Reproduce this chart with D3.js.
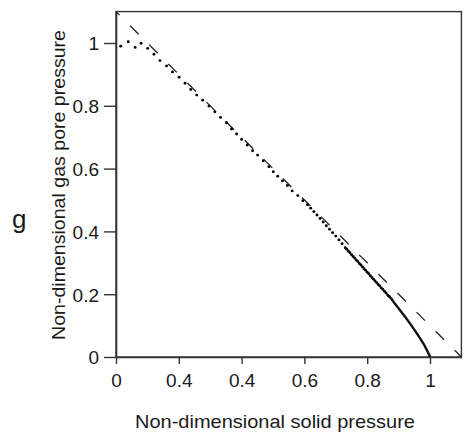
<!DOCTYPE html>
<html>
<head>
<meta charset="utf-8">
<script src="https://cdn.jsdelivr.net/npm/d3@7"></script>
<style>
  html, body { margin: 0; padding: 0; background: #fff; }
  svg text { font-family: "Liberation Sans", Arial, sans-serif; fill: #1a1a1a; }
</style>
</head>
<body>
<svg id="chart" width="467" height="436"></svg>
<script>
// Solid pressure (x) and gas pore pressure (y) of the computed solution, plotted as dots
const solidP = [
  0.015, 0.039, 0.061, 0.080, 0.101, 0.121, 0.140, 0.161, 0.180, 0.201,
  0.220, 0.238, 0.257, 0.276, 0.296, 0.315, 0.333, 0.352, 0.368, 0.384,
  0.400, 0.418, 0.435, 0.451, 0.469, 0.487, 0.501, 0.515, 0.530, 0.546,
  0.561, 0.579, 0.595, 0.610, 0.620, 0.630, 0.640, 0.650, 0.660, 0.670,
  0.680, 0.690, 0.700, 0.710, 0.720, 0.730, 0.735, 0.740, 0.745, 0.750,
  0.755, 0.760, 0.765, 0.770, 0.775, 0.780, 0.785, 0.790, 0.795, 0.800,
  0.805, 0.810, 0.815, 0.820, 0.825, 0.830, 0.835, 0.840, 0.845, 0.850,
  0.855, 0.860, 0.865, 0.870
];
const gasP = [
  0.990, 1.004, 0.986, 0.999, 0.983, 0.964, 0.944, 0.927, 0.908, 0.891,
  0.872, 0.852, 0.834, 0.818, 0.799, 0.781, 0.763, 0.746, 0.726, 0.710,
  0.693, 0.675, 0.657, 0.643, 0.625, 0.606, 0.590, 0.576, 0.561, 0.546,
  0.529, 0.514, 0.498, 0.485, 0.474, 0.463, 0.452, 0.441, 0.430, 0.418,
  0.407, 0.396, 0.385, 0.373, 0.361, 0.348, 0.343, 0.337, 0.332, 0.326,
  0.320, 0.315, 0.309, 0.304, 0.298, 0.293, 0.287, 0.281, 0.276, 0.270,
  0.265, 0.259, 0.253, 0.248, 0.242, 0.237, 0.231, 0.226, 0.220, 0.215,
  0.209, 0.204, 0.198, 0.193
];

// Dense tail of the solution near full solid pressure, where the dots merge into a line
const tailSolidP = [0.865, 0.873, 0.889, 0.904, 0.920, 0.936, 0.952, 0.968, 0.980, 0.989, 0.995, 0.999, 1.000];
const tailGasP   = [0.198, 0.190, 0.169, 0.150, 0.129, 0.107, 0.084, 0.060, 0.041, 0.024, 0.012, 0.004, 0.000];

// Reference line g = 1.1 - p
const refP = [0, 1.1];
const refG = [1.1, 0];

const xTickValues = [0, 0.2, 0.4, 0.6, 0.8, 1];
const xTickLabels = ["0", "0.4", "0.4", "0.6", "0.8", "1"];
const yTickValues = [0, 0.2, 0.4, 0.6, 0.8, 1];
const yTickLabels = ["0", "0.2", "0.4", "0.6", "0.8", "1"];

const svg = d3.select("#chart");
const left = 116, bottom = 357, unit = 314;
const fontSize = 19;

const x = d3.scaleLinear().domain([0, 1.1]).range([left, left + 1.1 * unit]);
const y = d3.scaleLinear().domain([0, 1.1]).range([bottom, bottom - 1.1 * unit]);

// Frame
svg.append("rect")
  .attr("x", x(0)).attr("y", y(1.1))
  .attr("width", x(1.1) - x(0)).attr("height", y(0) - y(1.1))
  .attr("fill", "none").attr("stroke", "#333").attr("stroke-width", 1.4);

// Axes
const xAxis = d3.axisBottom(x)
  .tickValues(xTickValues)
  .tickFormat((d, i) => xTickLabels[i])
  .tickSize(7).tickSizeOuter(0).tickPadding(10);
const gx = svg.append("g").attr("transform", `translate(0,${bottom})`).call(xAxis);

const yAxis = d3.axisLeft(y)
  .tickValues(yTickValues)
  .tickFormat((d, i) => yTickLabels[i])
  .tickSize(12).tickSizeOuter(0).tickPadding(5);
const gy = svg.append("g").attr("transform", `translate(${left},0)`).call(yAxis);

[gx, gy].forEach(g => {
  g.select(".domain").attr("stroke", "#333").attr("stroke-width", 1.6);
  g.selectAll(".tick line").attr("stroke", "#333").attr("stroke-width", 1.4);
  g.selectAll(".tick text").attr("font-size", fontSize).attr("fill", "#1a1a1a")
    .attr("font-family", "Liberation Sans, Arial, sans-serif");
});
gy.selectAll(".tick text").attr("dy", "0.36em");

// Dashed reference line
const line = d3.line().x(d => x(d[0])).y(d => y(d[1]));
svg.append("path")
  .datum(refP.map((p, i) => [p, refG[i]]))
  .attr("d", line)
  .attr("fill", "none").attr("stroke", "#222").attr("stroke-width", 1.3)
  .attr("stroke-dasharray", "12,15").attr("stroke-dashoffset", 7);

// Solid tail
svg.append("path")
  .datum(tailSolidP.map((p, i) => [p, tailGasP[i]]))
  .attr("d", d3.line().x(d => x(d[0])).y(d => y(d[1])).curve(d3.curveMonotoneY))
  .attr("fill", "none").attr("stroke", "#111").attr("stroke-width", 2.4);

// Dots
svg.append("g").selectAll("circle")
  .data(solidP.map((p, i) => [p, gasP[i]]))
  .join("circle")
  .attr("cx", d => x(d[0])).attr("cy", d => y(d[1]))
  .attr("r", 1.45).attr("fill", "#000");

// Axis titles
svg.append("text")
  .attr("x", 275).attr("y", 428)
  .attr("text-anchor", "middle").attr("font-size", fontSize)
  .attr("textLength", 280).attr("lengthAdjust", "spacingAndGlyphs")
  .text("Non-dimensional solid pressure");

svg.append("text")
  .attr("transform", `translate(65,185) rotate(-90)`)
  .attr("text-anchor", "middle").attr("font-size", fontSize)
  .attr("textLength", 310).attr("lengthAdjust", "spacingAndGlyphs")
  .text("Non-dimensional gas pore pressure");

svg.append("text")
  .attr("x", 12).attr("y", 228)
  .attr("font-size", 26)
  .text("g");
</script>
</body>
</html>
